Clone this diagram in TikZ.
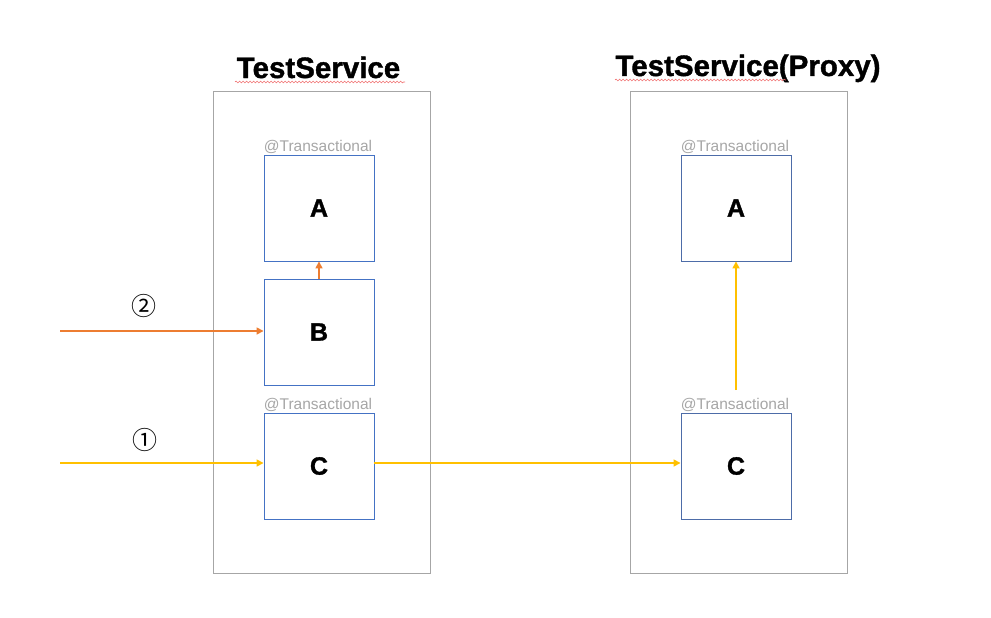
\documentclass[tikz,border=0pt]{standalone}
\usepackage{fontspec}
\setmainfont{Liberation Sans}
\newfontfamily\cjk{Noto Sans CJK JP}
\newfontfamily\heavy[UprightFont={* Bold}, FakeBold=1.3]{Liberation Sans}
\usetikzlibrary{arrows.meta,decorations.pathmorphing}
\definecolor{cgray}{HTML}{A6A6A6}
\definecolor{lblue}{HTML}{4472C4}
\definecolor{rblue}{HTML}{4D6CA8}
\definecolor{corange}{HTML}{ED7D31}
\definecolor{cyellow}{HTML}{FFC000}
\definecolor{cred}{HTML}{F07070}
\tikzset{
  container/.style={draw=cgray, line width=0.9pt, minimum width=217pt, minimum height=482pt, inner sep=0pt},
  methodbox/.style={draw=lblue, line width=0.9pt, fill=white, minimum width=110pt, minimum height=106pt, inner sep=0pt, font=\heavy\fontsize{25}{25}\selectfont},
  proxybox/.style={methodbox, draw=rblue},
  title/.style={font=\heavy\fontsize{29.5}{30}\selectfont, inner sep=0pt, anchor=base},
  anno/.style={text=cgray, font=\fontsize{15.5}{16}\selectfont, inner sep=0pt, anchor=base},
  numlabel/.style={font=\cjk\fontsize{25}{25}\selectfont, inner sep=0pt},
  orangearrow/.style={draw=corange, line width=1.6pt, -{Triangle[length=7pt,width=7pt]}},
  yellowarrow/.style={draw=cyellow, line width=1.6pt, -{Triangle[length=7pt,width=7pt]}},
  squiggle/.style={draw=cred, line width=0.6pt, decorate, decoration={snake, segment length=3.5pt, amplitude=0.9pt}}
}
\begin{document}
\begin{tikzpicture}[x=1pt, y=-1pt]
\useasboundingbox (0,0) rectangle (991,618);

% containers
\node[container] (ls) at (321.5,332) {};
\node[container] (rs) at (738.5,332) {};

% titles
\node[title] (lt) at (318.5,78) {TestService};
\node[title] (rt) at (748,76) {TestService(Proxy)};
\draw[squiggle] (235,82) -- (405,82);
\draw[squiggle] (615,80) -- (786,80);

% left boxes
\node[methodbox] (la) at (319,208) {A};
\node[methodbox] (lb) at (319,332) {B};
\node[methodbox] (lc) at (319,466) {C};
\node[anno] (lat) at (318,151.5) {@Transactional};
\node[anno] (lct) at (318,409.5) {@Transactional};

% right boxes
\node[proxybox] (ra) at (736,208) {A};
\node[proxybox] (rc) at (736,466) {C};
\node[anno] (rat) at (735,151.5) {@Transactional};
\node[anno] (rct) at (735,409.5) {@Transactional};

% entry points
\coordinate (in2) at (60,331);
\coordinate (in1) at (60,463);
\coordinate (up) at (736,390);

% labels
\node[numlabel] (n2) at (144,306) {②};
\node[numlabel] (n1) at (145,440) {①};

% arrows
\draw[orangearrow] (in2) -- (lb.west |- in2);
\draw[orangearrow] (lb.north) -- (la.south);
\draw[yellowarrow] (in1) -- (lc.west |- in1);
\draw[yellowarrow] (lc.east |- in1) -- (rc.west |- in1);
\draw[yellowarrow] (up) -- (ra.south);
\end{tikzpicture}
\end{document}
